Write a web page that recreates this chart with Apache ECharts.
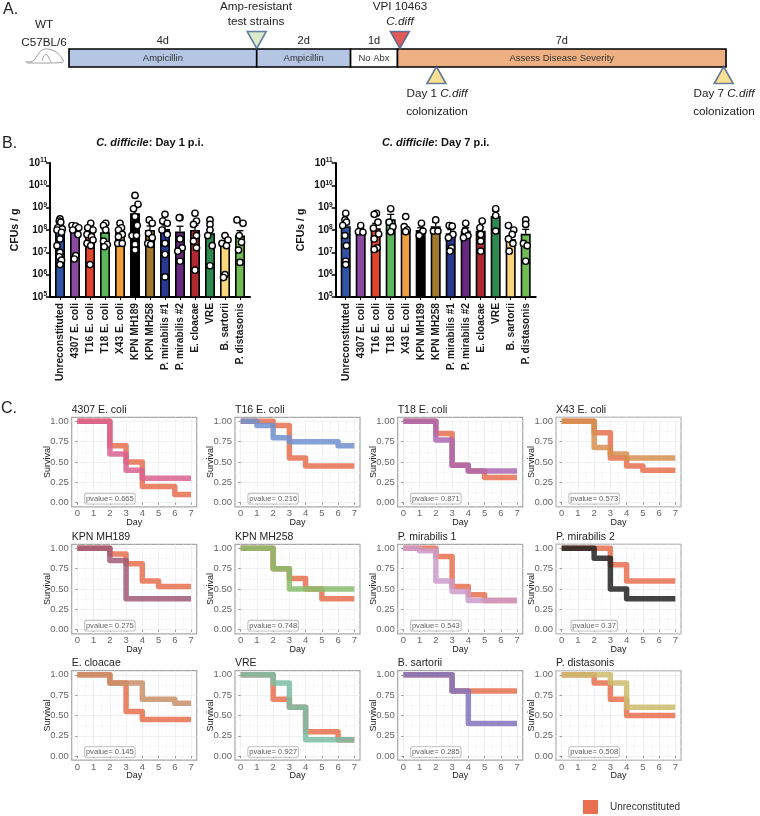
<!DOCTYPE html>
<html><head><meta charset="utf-8">
<style>html,body{margin:0;padding:0;background:#fff}#c{width:760px;height:816px}</style>
<script src="https://cdn.jsdelivr.net/npm/echarts@6/dist/echarts.min.js"></script>
</head><body><div id="c"></div>
<script>
const FONT = "'Liberation Sans', Arial, sans-serif";

// ---------- Panel A: timeline ----------
const segStart = [0, 4, 6, 7];
const segEnd = [4, 6, 7, 14];
const segDays = ['4d', '2d', '1d', '7d'];
const segLabels = ['Ampicillin', 'Ampicillin', 'No Abx', 'Assess Disease Severity'];
const segFill = ['#b4c6e4', '#b4c6e4', '#ffffff', '#eeb083'];
const markDay = [4, 7.05, 7.83, 13.95];
const markLevel = [1.5, 1.5, -0.45, -0.45];
const markDown = [true, true, false, false];
const markFill = ['#cfe3bd', '#d8322b', '#fbd877', '#fbd877'];

// ---------- Panel B: colonization ----------
const strains = ['Unreconstituted', '4307 E. coli', 'T16 E. coli', 'T18 E. coli', 'X43 E. coli', 'KPN MH189', 'KPN MH258',
  'P. mirabilis #1', 'P. mirabilis #2', 'E. cloacae', 'VRE', 'B. sartorii', 'P. distasonis'];
const barColors = ['#2f55a4', '#8b4a9f', '#e2452d', '#5db65c', '#ef9f3f', '#000000', '#a27a2f',
  '#28398f', '#672a80', '#ae2a30', '#2f8a50', '#fbd67c', '#71bb55'];
const day1Mean = [8.0, 8.0, 7.85, 7.9, 7.95, 8.75, 8.0, 8.05, 7.93, 8.0, 7.85, 7.35, 7.75];
const day1Upper = [8.12, 8.12, 8.0, 8.02, 8.08, 9.0, 8.18, 8.22, 8.17, 8.2, 8.02, 7.5, 7.97];
const day7Mean = [8.17, 7.95, 8.08, 8.48, 8.05, 8.0, 8.17, 7.85, 7.97, 7.97, 8.63, 7.6, 7.83];
const day7Upper = [8.3, 8.05, 8.3, 8.7, 8.15, 8.1, 8.35, 8.02, 8.1, 8.15, 8.85, 7.75, 8.03];
const day1Exp = [
  [8.5, 8.4, 8.35, 8.1, 8.05, 8.0, 7.9, 7.6, 7.3, 7.0, 6.8, 6.65, 6.45],
  [8.2, 8.18, 8.1, 8.0, 7.8, 6.85, 6.7],
  [8.3, 8.1, 8.0, 7.8, 7.7, 7.55, 7.4, 7.3, 6.45],
  [8.3, 8.2, 8.0, 7.5, 7.35, 7.25],
  [8.3, 8.1, 8.0, 7.8, 7.7, 7.4, 7.4],
  [9.55, 9.15, 8.95, 8.6, 8.2, 7.75, 7.75, 7.35, 7.1],
  [8.45, 8.3, 7.85, 7.65, 7.4, 7.35],
  [8.7, 8.4, 8.3, 8.0, 7.8, 7.4, 6.9, 5.9],
  [8.55, 8.55, 7.6, 7.2, 7.05, 6.6],
  [8.75, 8.4, 8.25, 7.75, 7.5, 7.2, 6.2],
  [8.45, 8.25, 8.0, 7.75, 7.3, 6.4],
  [7.75, 7.55, 7.4, 7.3, 6.0, 5.87],
  [8.45, 8.3, 7.75, 7.45, 7.1, 6.55]
];
const day1Off = [
  [0, -0.05, 0.05, -0.15, 0.15, -0.2, 0.1, 0, -0.2, 0, -0.05, 0.1, 0],
  [-0.2, 0.05, 0.25, -0.15, 0.2, 0.05, -0.05],
  [0.05, -0.15, 0.2, -0.2, 0.1, 0.2, -0.2, 0.05, 0],
  [0.05, -0.1, 0.05, -0.1, 0.15, -0.05],
  [0, 0.1, -0.1, 0.15, -0.1, -0.15, 0.15],
  [0, 0.2, -0.1, 0, 0.15, -0.2, 0.1, 0, 0],
  [-0.05, 0.15, -0.1, 0.15, -0.15, 0.05],
  [0, -0.15, 0.15, -0.2, 0.15, 0, 0, 0],
  [0, -0.05, 0, 0.15, -0.15, 0],
  [0, 0.1, -0.1, 0.1, -0.1, 0.1, 0],
  [0, 0, 0, -0.15, 0.15, 0],
  [0, 0.2, -0.2, 0.1, 0, -0.1],
  [-0.2, 0.2, -0.05, 0.1, -0.1, 0]
];
const day7Exp = [
  [8.75, 8.45, 8.35, 8.2, 7.75, 7.3, 6.6, 6.45],
  [8.2, 7.92, 7.9],
  [8.75, 8.7, 8.35, 8.08, 7.82, 7.6, 7.2, 7.13],
  [8.95, 8.35, 8.15, 7.92],
  [8.6, 8.15, 8.0, 7.92],
  [8.3, 7.95, 7.75],
  [8.45, 7.95, 7.95],
  [8.2, 8.17, 7.8, 7.65, 7.2, 7.05],
  [8.3, 7.95, 7.75, 7.65],
  [8.4, 8.1, 7.8, 7.5, 7.05],
  [8.95, 8.65, 7.95],
  [8.2, 8.0, 7.8, 7.6, 7.4, 7.05],
  [8.45, 8.25, 7.4, 7.3, 6.6]
];
const day7Off = [
  [0, -0.05, 0.05, -0.2, -0.05, 0.05, 0, 0],
  [0, -0.15, 0.15],
  [0.05, -0.1, 0.15, -0.15, 0.2, -0.1, 0.1, -0.1],
  [0, -0.1, 0.15, 0],
  [0, -0.1, 0.1, 0],
  [0.05, 0.15, -0.1],
  [0, -0.15, 0.15],
  [-0.1, 0.1, 0.15, -0.15, 0.05, -0.05],
  [0, -0.05, 0.15, -0.15],
  [0.1, -0.05, 0, 0, 0],
  [0, 0, 0],
  [-0.15, 0.2, 0.1, -0.15, 0.15, -0.1],
  [0, 0, -0.15, 0.1, 0]
];

// ---------- Panel C: survival, value at each of days 0..7 ----------
const kmDays = [0, 1, 2, 3, 4, 5, 6, 7];
const kmTitles = ['4307 E. coli', 'T16 E. coli', 'T18 E. coli', 'X43 E. coli', 'KPN MH189', 'KPN MH258',
  'P. mirabilis 1', 'P. mirabilis 2', 'E. cloacae', 'VRE', 'B. sartorii', 'P. distasonis'];
const kmPvalues = ['0.665', '0.216', '0.871', '0.573', '0.275', '0.748', '0.543', '0.37', '0.145', '0.927', '0.285', '0.508'];
const kmColors = ['#d9628f', '#7190cf', '#ad67b0', '#d68f4f', '#9d5a75', '#87bd6c', '#cd9bcb', '#222222', '#c98f68', '#7bbda5', '#8273bd', '#cdbb6c'];
const kmUnrec = [
  [1, 1, 0.7, 0.5, 0.2, 0.2, 0.1, 0.1],
  [1, 1, 0.95, 0.55, 0.45, 0.45, 0.45, 0.45],
  [1, 1, 0.85, 0.46, 0.39, 0.31, 0.31, 0.31],
  [1, 1, 0.86, 0.55, 0.45, 0.4, 0.4, 0.4],
  [1, 1, 0.93, 0.81, 0.6, 0.53, 0.53, 0.53],
  [1, 1, 0.75, 0.63, 0.5, 0.38, 0.38, 0.38],
  [1, 1, 0.9, 0.53, 0.43, 0.36, 0.36, 0.36],
  [1, 1, 1, 0.8, 0.6, 0.6, 0.6, 0.6],
  [1, 1, 0.9, 0.55, 0.45, 0.45, 0.45, 0.45],
  [1, 1, 0.7, 0.6, 0.3, 0.3, 0.2, 0.2],
  [1, 1, 1, 0.8, 0.8, 0.8, 0.8, 0.8],
  [1, 1, 0.9, 0.7, 0.5, 0.5, 0.5, 0.5]
];
const kmStrain = [
  [1, 1, 0.6, 0.4, 0.3, 0.3, 0.3, 0.3],
  [1, 0.95, 0.8, 0.75, 0.75, 0.75, 0.7, 0.7],
  [1, 1, 0.77, 0.46, 0.39, 0.39, 0.39, 0.39],
  [1, 1, 0.68, 0.6, 0.55, 0.55, 0.55, 0.55],
  [1, 1, 0.85, 0.38, 0.38, 0.38, 0.38, 0.38],
  [1, 1, 0.75, 0.5, 0.5, 0.5, 0.5, 0.5],
  [1, 0.97, 0.6, 0.47, 0.36, 0.36, 0.36, 0.36],
  [1, 1, 0.88, 0.5, 0.38, 0.38, 0.38, 0.38],
  [1, 1, 0.9, 0.9, 0.7, 0.7, 0.65, 0.65],
  [1, 1, 0.9, 0.6, 0.2, 0.2, 0.2, 0.2],
  [1, 1, 1, 0.8, 0.4, 0.4, 0.4, 0.4],
  [1, 1, 1, 0.9, 0.6, 0.6, 0.6, 0.6]
];
const kmMajorY = [0, 0.25, 0.5, 0.75, 1];
const kmMinorY = [0.125, 0.375, 0.625, 0.875];
const kmMinorX = [0.5, 1.5, 2.5, 3.5, 4.5, 5.5, 6.5];
const UNREC = '#e8704f';

// ---------- Build ----------
const grids = [], xAxes = [], yAxes = [], series = [], graphics = [];
function addGrid(g) { grids.push(g); return grids.length - 1; }
function addX(a) { xAxes.push(a); return xAxes.length - 1; }
function addY(a) { yAxes.push(a); return yAxes.length - 1; }
function label(x, y, text, size, extra) {
  graphics.push({ type: 'text', x: x, y: y, silent: true, style: Object.assign({
    text: text, fontFamily: FONT, fontSize: size, fill: '#222', align: 'center', verticalAlign: 'middle' }, extra || {}) });
}

// Panel A
(function () {
  const g = addGrid({ left: 69, top: 49, width: 657, height: 18 });
  const xi = addX({ gridIndex: g, type: 'value', min: 0, max: 14, show: false });
  const yi = addY({ gridIndex: g, type: 'value', min: 0, max: 1, show: false });
  series.push({
    type: 'custom', xAxisIndex: xi, yAxisIndex: yi, clip: false, silent: true, z: 2,
    data: segStart.map((s, i) => [s, segEnd[i]]),
    renderItem: function (params, api) {
      const a = api.coord([api.value(0), 1]), b = api.coord([api.value(1), 0]), i = params.dataIndex;
      return { type: 'group', children: [
        { type: 'rect', shape: { x: a[0], y: a[1], width: b[0] - a[0], height: b[1] - a[1] },
          style: { fill: segFill[i], stroke: '#000', lineWidth: 1.6 } },
        { type: 'text', x: (a[0] + b[0]) / 2, y: (a[1] + b[1]) / 2 + 0.5,
          style: { text: segLabels[i], fontFamily: FONT, fontSize: 9.5, fill: '#333', align: 'center', verticalAlign: 'middle' } },
        { type: 'text', x: (a[0] + b[0]) / 2, y: a[1] - 8,
          style: { text: segDays[i], fontFamily: FONT, fontSize: 11, fill: '#222', align: 'center', verticalAlign: 'middle' } }
      ] };
    }
  });
  series.push({
    type: 'scatter', xAxisIndex: xi, yAxisIndex: yi, clip: false, silent: true, z: 3, symbol: 'triangle', symbolSize: [19, 17],
    data: markDay.map((d, i) => ({ value: [d, markLevel[i]], symbolRotate: markDown[i] ? 180 : 0,
      itemStyle: { color: markFill[i], borderColor: '#3f5f93', borderWidth: 1.6 } }))
  });
  label(44, 25, 'WT', 11.7); label(44, 43, 'C57BL/6', 11.7);
  label(256, 7, 'Amp-resistant', 11.7); label(256, 22, 'test strains', 11.7);
  label(400, 7, 'VPI 10463', 11.7);
  label(400, 22, 'C.diff', 11.7, { fontStyle: 'italic' });
  const rich = { r: { fontFamily: FONT, fontSize: 11.7, fill: '#222' }, i: { fontFamily: FONT, fontSize: 11.7, fontStyle: 'italic', fill: '#222' } };
  label(437, 94, '{r|Day 1 }{i|C.diff}', 11.7, { rich: rich }); label(437, 112, 'colonization', 11.7);
  label(724, 94, '{r|Day 7 }{i|C.diff}', 11.7, { rich: rich }); label(724, 112, 'colonization', 11.7);
  graphics.push({ type: 'polyline', silent: true,
    shape: { smooth: 0.3, points: [[25, 62], [33, 61], [37, 56], [42, 50], [48, 49], [56, 52], [62, 58], [63, 62], [50, 63], [40, 63], [27, 63]] },
    style: { fill: 'none', stroke: '#777', lineWidth: 0.7 } });
  graphics.push({ type: 'polyline', silent: true,
    shape: { smooth: 0.3, points: [[42, 61], [44, 56], [46, 54], [49, 58], [51, 62]] },
    style: { fill: 'none', stroke: '#777', lineWidth: 0.7 } });
  label(3, 10, 'A.', 16, { align: 'left' });
  label(2, 144, 'B.', 16, { align: 'left' });
  label(1, 409, 'C.', 16, { align: 'left' });
})();

// Panel B
function addBarPanel(frameLeft, meanE, upperE, expE, offE, dayText) {
  const top = 163, height = 134;
  const fg = addGrid({ left: frameLeft, top: top, width: 200, height: height });
  const fx = addX({ gridIndex: fg, type: 'value', min: 0, max: 1, axisLine: { show: true, onZero: false, lineStyle: { color: '#000', width: 2 } },
    axisTick: { show: false }, axisLabel: { show: false }, splitLine: { show: false } });
  const fy = addY({ gridIndex: fg, type: 'log', logBase: 10, min: 1e5, max: 1e11, splitNumber: 6,
    axisLine: { show: true, onZero: false, lineStyle: { color: '#000', width: 2 } },
    axisTick: { show: true, length: 4, lineStyle: { color: '#000', width: 1.5 } },
    minorTick: { show: false }, splitLine: { show: false }, minorSplitLine: { show: false },
    name: 'CFUs / g', nameLocation: 'middle', nameGap: 29.5, nameRotate: 90, nameMoveOverlap: false,
    nameTextStyle: { fontFamily: FONT, fontSize: 10.5, fontWeight: 'bold', color: '#111' },
    axisLabel: { margin: 3, formatter: v => '{b|10}{s|' + Math.round(Math.log10(v)) + '}',
      rich: { b: { fontFamily: FONT, fontSize: 10, fontWeight: 'bold', color: '#111' },
              s: { fontFamily: FONT, fontSize: 6.5, fontWeight: 'bold', color: '#111', verticalAlign: 'top', padding: [0, 0, 5, 0] } } } });
  series.push({ type: 'line', xAxisIndex: fx, yAxisIndex: fy, data: [], silent: true });

  const g = addGrid({ left: frameLeft + 2.5, top: top, width: 195, height: height });
  const xc = addX({ gridIndex: g, type: 'category', data: strains, position: 'bottom',
    axisLine: { show: false }, axisTick: { show: true, alignWithLabel: true, length: 3, lineStyle: { color: '#000', width: 1 } },
    axisLabel: { rotate: 90, interval: 0, margin: 6, fontFamily: FONT, fontSize: 10.2, fontWeight: 'bold', color: '#1a1a1a' } });
  const xv = addX({ gridIndex: g, type: 'value', min: -0.5, max: 12.5, show: false });
  const yi = addY({ gridIndex: g, type: 'log', logBase: 10, min: 1e5, max: 1e11, show: false });
  series.push({ type: 'bar', xAxisIndex: xc, yAxisIndex: yi, barWidth: 10, silent: true, z: 2,
    data: meanE.map((e, i) => ({ value: Math.pow(10, e), itemStyle: { color: barColors[i], borderColor: '#000', borderWidth: 1.6 } })) });
  series.push({ type: 'custom', xAxisIndex: xc, yAxisIndex: yi, silent: true, z: 3, clip: false,
    data: upperE.map((e, i) => [i, Math.pow(10, meanE[i]), Math.pow(10, e)]),
    renderItem: function (params, api) {
      const a = api.coord([api.value(0), api.value(1)]), b = api.coord([api.value(0), api.value(2)]);
      const st = { stroke: '#000', lineWidth: 1.3, fill: 'none' };
      return { type: 'group', children: [
        { type: 'line', shape: { x1: a[0], y1: a[1], x2: b[0], y2: b[1] }, style: st },
        { type: 'line', shape: { x1: b[0] - 3.5, y1: b[1], x2: b[0] + 3.5, y2: b[1] }, style: st } ] };
    } });
  const pts = [];
  expE.forEach((list, i) => list.forEach((e, j) => pts.push([i + offE[i][j], Math.pow(10, e)])));
  series.push({ type: 'scatter', xAxisIndex: xv, yAxisIndex: yi, silent: true, z: 4, symbol: 'circle', symbolSize: 6.3,
    itemStyle: { color: '#fff', borderColor: '#000', borderWidth: 1.4, opacity: 1 }, data: pts });
  const cx = frameLeft + 100;
  label(cx, 143, '{i|C. difficile}{b|: ' + dayText + '}', 11, { rich: {
    i: { fontFamily: FONT, fontSize: 11, fontWeight: 'bold', fontStyle: 'italic', fill: '#111' },
    b: { fontFamily: FONT, fontSize: 11, fontWeight: 'bold', fill: '#111' } } });
}
addBarPanel(50, day1Mean, day1Upper, day1Exp, day1Off, 'Day 1 p.i.');
addBarPanel(335.7, day7Mean, day7Upper, day7Exp, day7Off, 'Day 7 p.i.');

// Panel C
const colLeft = [71.7, 235, 397.7, 556];
const rowTop = [417.3, 544.3, 670.7];
kmTitles.forEach((title, k) => {
  const left = colLeft[k % 4], top = rowTop[Math.floor(k / 4)];
  const g = addGrid({ left: left, top: top, width: 125, height: 89.5, show: true, backgroundColor: '#fff',
    borderColor: k % 4 === 3 ? '#c4c4c4' : '#a6a6a6', borderWidth: k % 4 === 3 ? 1.6 : 1.2 });
  const grid = { major: { show: true, lineStyle: { color: '#eceef0', width: 0.8 } }, minor: { show: true, lineStyle: { color: '#f4f5f6', width: 0.6 } } };
  const x = addX({ gridIndex: g, type: 'value', min: -0.35, max: 7.35, name: 'Day', nameLocation: 'middle', nameGap: 11, nameMoveOverlap: false,
    nameTextStyle: { fontFamily: FONT, fontSize: 9, color: '#222' },
    axisLine: { show: false }, axisTick: { show: true, length: 2, lineStyle: { color: '#777', width: 0.8 }, customValues: kmDays },
    axisLabel: { show: true, margin: 2, fontFamily: FONT, fontSize: 9.5, color: '#666', customValues: kmDays, formatter: v => String(v), showMinLabel: true, showMaxLabel: true },
    splitLine: grid.major });
  const y = addY({ gridIndex: g, type: 'value', min: -0.05, max: 1.05, name: 'Survival', nameLocation: 'middle', nameGap: 20, nameRotate: 90, nameMoveOverlap: false,
    nameTextStyle: { fontFamily: FONT, fontSize: 9, color: '#222' },
    axisLine: { show: false }, axisTick: { show: true, length: 2, lineStyle: { color: '#777', width: 0.8 }, customValues: kmMajorY },
    axisLabel: { show: true, margin: 3, fontFamily: FONT, fontSize: 9.5, color: '#666', customValues: kmMajorY, formatter: v => v.toFixed(2) },
    splitLine: grid.major });
  const x2 = addX({ gridIndex: g, type: 'value', min: -0.35, max: 7.35, position: 'top', axisLine: { show: false }, axisLabel: { show: false },
    axisTick: { show: false, customValues: kmMinorX }, splitLine: grid.minor });
  const y2 = addY({ gridIndex: g, type: 'value', min: -0.05, max: 1.05, position: 'right', axisLine: { show: false }, axisLabel: { show: false },
    axisTick: { show: false, customValues: kmMinorY }, splitLine: grid.minor });
  const toSeries = (name, vals, color, z) => ({
    name: name, type: 'line', xAxisIndex: x, yAxisIndex: y, step: 'end', symbol: 'none', silent: true, z: z, clip: false,
    data: kmDays.map((d, i) => [d, vals[i]]), itemStyle: { color: color },
    lineStyle: { color: color, width: 5.5, opacity: 0.85, join: 'round', cap: 'butt' } });
  series.push(toSeries('Unreconstituted', kmUnrec[k], UNREC, 3));
  series.push(toSeries(title, kmStrain[k], kmColors[k], 4));
  series.push({ type: 'scatter', xAxisIndex: x, yAxisIndex: y, symbolSize: 0, silent: true, z: 5, data: [[2, 0.05]],
    label: { show: true, position: 'inside', formatter: 'pvalue= ' + kmPvalues[k], fontFamily: FONT, fontSize: 7.6, color: '#333',
      backgroundColor: '#fff', borderColor: '#aaa', borderWidth: 0.8, borderRadius: 2, padding: [1, 1] } });
  label(left, top - 7.5, title, 10.5, { align: 'left', fill: '#222' });
});

const chart = echarts.init(document.getElementById('c'), null, { renderer: 'canvas' });
chart.setOption({
  animation: false, backgroundColor: '#fff', textStyle: { fontFamily: FONT },
  grid: grids, xAxis: xAxes, yAxis: yAxes, series: series, graphic: { elements: graphics },
  legend: { data: [{ name: 'Unreconstituted', icon: 'rect' }], left: 583, top: 800, itemWidth: 15, itemHeight: 14, itemGap: 0, padding: 0, selectedMode: false,
    textStyle: { fontFamily: FONT, fontSize: 10, color: '#333', padding: [0, 0, 0, 7] } }
});
</script></body></html>
